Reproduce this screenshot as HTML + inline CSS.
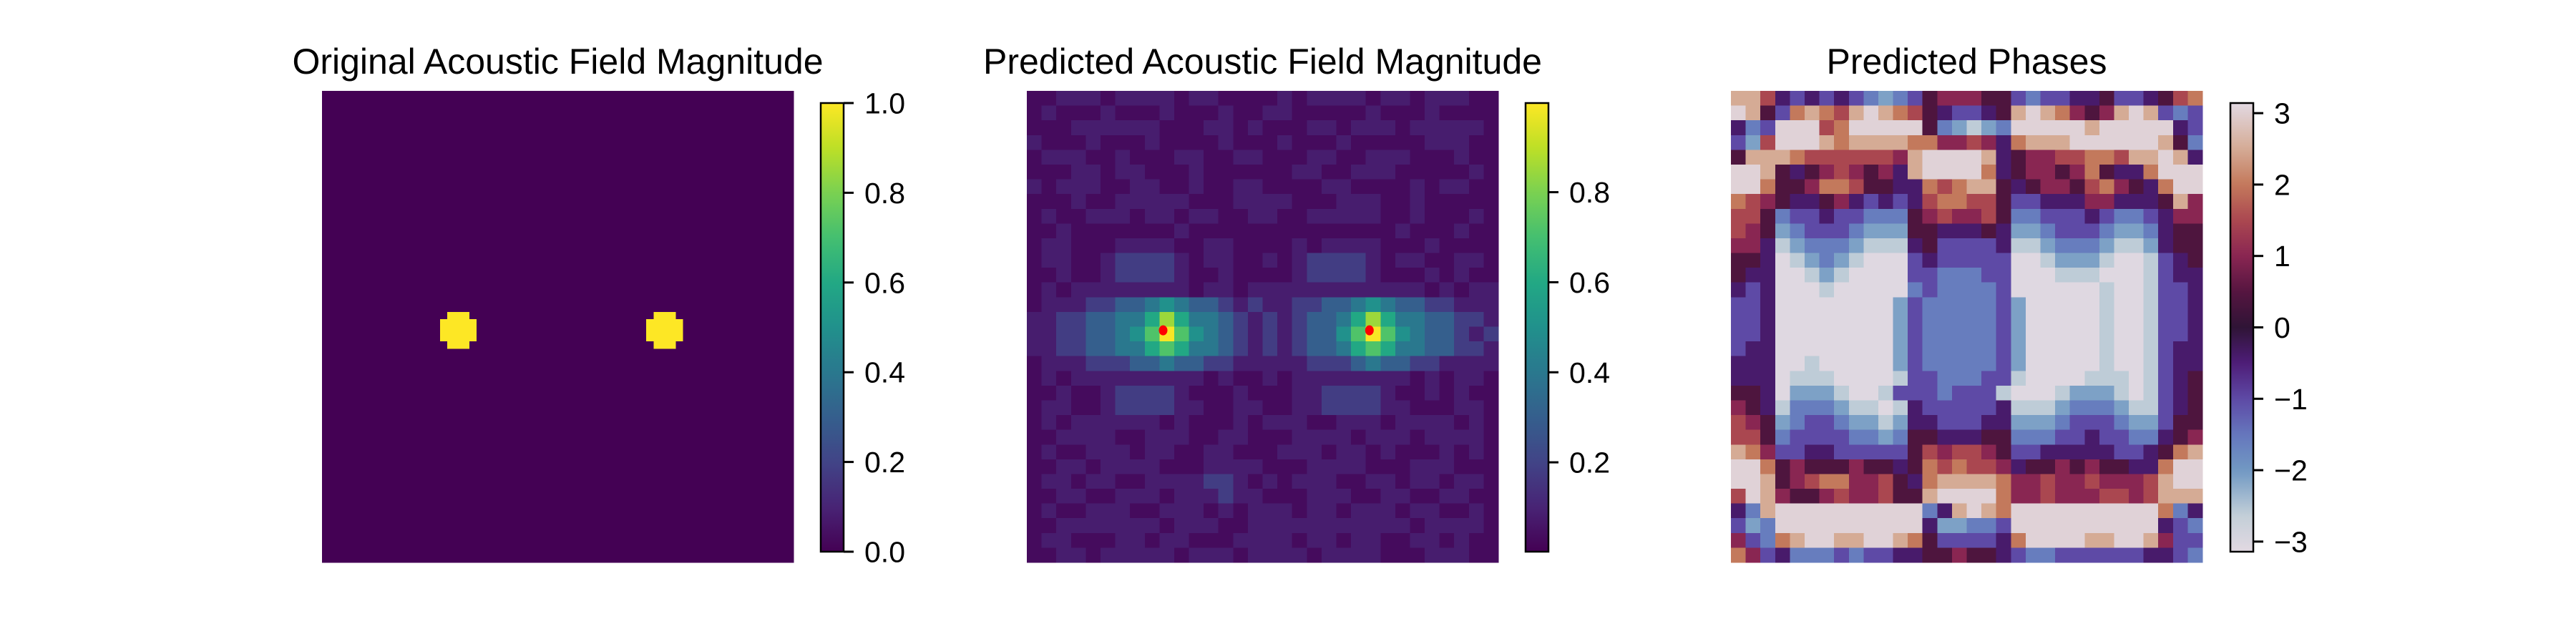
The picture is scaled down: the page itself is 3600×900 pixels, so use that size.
<!DOCTYPE html>
<html><head><meta charset="utf-8"><style>
html,body{margin:0;padding:0;background:#fff;}
svg{display:block;}
text{font-family:"Liberation Sans","DejaVu Sans",sans-serif;fill:#000;}
</style></head><body>
<svg id="fig" xmlns="http://www.w3.org/2000/svg" width="3600" height="900" viewBox="0 0 3600 900">
<rect x="0" y="0" width="3600" height="900" fill="#fff"/>
</svg>
<script>
// ---------- data ----------
const GRID_N = 64;
// Panel 1: target points (row, col) of the original magnitude
const TARGET_ROWS = [32, 32];
const TARGET_COLS = [18, 46];
const TARGET_VALUE = 1.0;
const BG_VALUE = 0.0;
// disk shape offsets
const DISK_ROWS = [-2, -1, 0, 1, 2];
const DISK_HALF = [1, 2, 2, 2, 1];
// Panel 2: predicted magnitude (32x32 blocks, level codes)
const MAG_LEVELS = {"0":0.03,"1":0.08,"2":0.18,"3":0.3,"4":0.4,"5":0.5,"6":0.6,"7":0.72,"8":0.85,"9":0.92,"a":0.99};
const MAG_GRID = [
"00111011110110000101111011011100",
"01000100010001001100000100010000",
"00011111100011010001101110111110",
"10001000100001000100010000011100",
"01110010001100110001100111000100",
"00011011000100000011001110000010",
"10111001100100110000110000101100",
"00010011111000111100011100100000",
"01001110110110011001111100100010",
"00100000001000000000000001000100",
"01100011110011000010111100010000",
"01100122221011001012222101100110",
"00100122221001000012222100010100",
"01011111111011011111111111101011",
"01112233454332121122334543322111",
"11223344686443212123346864433221",
"112233457a7543212123357a75433212",
"11223344676443212123346764433221",
"01112223343322111112223433221111",
"01011111111101001011111111010110",
"00100122221000100011222210010100",
"01100122221100110011222211000110",
"01011111101000101110011101111010",
"00111100111001100011110111011110",
"01001110110011000111011010001010",
"00110111100011110001111000111000",
"01101100111122101011100110110110",
"00110011101112110001110011001100",
"01001110011101011101101110110010",
"00111111101110011111111111011110",
"01100011011000111101101100110100",
"00110111110111011110111100011100"];
const MAG_MIN = 0.0015, MAG_MAX = 0.998;
const MAG_TICKS = [0.2, 0.4, 0.6, 0.8];
const MAG_TICK_LABELS = ["0.2", "0.4", "0.6", "0.8"];
// Panel 3: predicted phases (32x32 blocks, level codes)
const PH_LEVELS = {"W":3.05,"T":2.5,"O":2.0,"R":1.5,"M":1.0,"D":0.4,"K":-0.4,"P":-1.0,"B":-1.6,"L":-2.1,"S":-2.6,"w":-3.1};
const PH_GRID = [
"TTRKPKPKPBLBPDMMMDDPBPPKKDPPKDRO",
"WTDPOTORTWTORDKPPKDTWTOMDMTWTPBP",
"KBPWWWROWWWWWDBLSLBWWWWWTWWWWWKP",
"PLRWWWTOTTTTOOMMRMKOTTTWWWWWWTDB",
"DTTTORRRRRRMTWWWWTKDMMRROORTTWTK",
"WWTDKDMRMDMKTWWWWOKDMMDMODKKOWWW",
"WWODDMOORDDKKOROTTDKDMMDROMDKOWW",
"ORMDKKDMKPKPKROORRDPPKKKMMKKKDTM",
"RRDBPPKPPBBBDMRMMRDBBPPPKPBBPKMM",
"RMDLBPPPBLLLDDKKKDKLLBPPPBLLBKDD",
"MMKSLBBBLSSSKDPPPPKSSLBBBLSSLKDD",
"DDKwSLBLSwwwPKPPPPPwwSLLLSwwSPKD",
"DKKwwSLSwwwwPPBBBPPwwwSSSwwwSPKK",
"KPKwwwSwwwwwBPBBBBPwwwwwwSwwSPPK",
"PPKwwwwwwwwLPBBBBBPLwwwwwSwwSPPK",
"PPKwwwwwwwwLPBBBBBPLwwwwwSwwSPPK",
"PPKwwwwwwwwLPBBBBBPLwwwwwSwwSPPK",
"PKKwwwwwwwwLPBBBBBPLwwwwwSwwSPKK",
"KKKwwSwwwwwLPBBBBBPLwwwwwSwwSPKK",
"KKKwSSSwwwwSPPBBBPPSwwwwSSSwSPKD",
"DDKwLLLSwwSPPPBPPPSwwwSLLLSwSPKD",
"MDKSBBBLSSwSKPPPPPKSSSLBBBLSSPKD",
"RMDLBPPBLLSLKKPPPKKLLLBPPPBLLPDD",
"RRDBPPPPBBLBDDKKKDDBBBPPKPPBBKDM",
"TOMPPKKPPPPPDRMRRMDPPKKKKKPPKDOT",
"WWODMDDDMDDKDORORRMKDDMDMDDKKOWW",
"WWTDMROOMMRDKOTTTTOMMRMMRMMMRTWW",
"RWTMDDMRMMRDDTWWWWOMMRMMMRRMRTTT",
"KBTWWWWWWWWWWBKTWTOWWWWWWWWWWOBK",
"PLBWWWWWWWWWWKLLBBPWWWWWWWWWWKPB",
"MPBOTWWTTWWTODPPPPKOWWWWTTWWTMPP",
"OMPKBBBPBPPKKDDMDDKPBBPPPPPPKKPB"];
const PH_MIN = -Math.PI, PH_MAX = Math.PI;
const PH_TICKS = [-3, -2, -1, 0, 1, 2, 3];
const PH_TICK_LABELS = ["\u22123", "\u22122", "\u22121", "0", "1", "2", "3"];
const ORIG_TICKS = [0, 0.2, 0.4, 0.6, 0.8, 1.0];
const ORIG_TICK_LABELS = ["0.0", "0.2", "0.4", "0.6", "0.8", "1.0"];

// ---------- colormaps ----------
const VIRIDIS = [[0,"#440154"],[0.1,"#482475"],[0.2,"#414487"],[0.3,"#355f8d"],[0.4,"#2a788e"],[0.5,"#21918c"],[0.6,"#22a884"],[0.7,"#44bf70"],[0.8,"#7ad151"],[0.9,"#bddf26"],[1,"#fde725"]];
const TWILIGHT = [[0,"#e2d9e2"],[0.08,"#c3cfd8"],[0.18,"#7199c3"],[0.26,"#6577bd"],[0.34,"#5e4aa6"],[0.42,"#4e1d78"],[0.5,"#2f1436"],[0.58,"#561540"],[0.66,"#8a2652"],[0.74,"#ab4850"],[0.82,"#c47a5c"],[0.9,"#d5ac97"],[1,"#e2d9e2"]];
function hex2rgb(h){return [parseInt(h.substr(1,2),16),parseInt(h.substr(3,2),16),parseInt(h.substr(5,2),16)];}
function cmap(stops,t){
  t=Math.max(0,Math.min(1,t));
  for(let i=1;i<stops.length;i++){
    if(t<=stops[i][0]){
      const a=stops[i-1],b=stops[i];const f=(t-a[0])/(b[0]-a[0]);
      const ca=hex2rgb(a[1]),cb=hex2rgb(b[1]);
      return "rgb("+ca.map((v,k)=>Math.round(v+(cb[k]-v)*f)).join(",")+")";
    }
  }
  return stops[stops.length-1][1];
}

// ---------- layout ----------
const NS="http://www.w3.org/2000/svg";
const svg=document.getElementById("fig");
function mk(tag,attrs,parent){const e=document.createElementNS(NS,tag);for(const k in attrs)e.setAttribute(k,attrs[k]);(parent||svg).appendChild(e);return e;}
const IMG_Y=127, IMG_S=659, CB_Y=144, CB_H=627, CB_W=32;
const PANELS=[{x:450,cb:1147,title:"Original Acoustic Field Magnitude"},{x:1435,cb:2132,title:"Predicted Acoustic Field Magnitude"},{x:2419,cb:3117,title:"Predicted Phases"}];
const cell=IMG_S/GRID_N;
function cellX(p,c){return p.x+c*cell;}
function cellY(r){return IMG_Y+r*cell;}

function drawHeat(p,getVal,vmin,vmax,stops,name){
  const g=mk("g",{"shape-rendering":"crispEdges"});
  
  
  for(let r=0;r<GRID_N;r++){
    let c=0;
    while(c<GRID_N){
      const v=getVal(r,c);let c2=c+1;
      while(c2<GRID_N&&getVal(r,c2)===v)c2++;
      const rc=mk("rect",{x:cellX(p,c).toFixed(2),y:cellY(r).toFixed(2),width:((c2-c)*cell+0.6).toFixed(2),height:(cell+0.6).toFixed(2),fill:cmap(stops,(v-vmin)/(vmax-vmin))},g);
      
      
      c=c2;
    }
  }
}
function drawTitle(p,name){
  const t=mk("text",{x:p.x+IMG_S/2,y:103,"font-size":"50","text-anchor":"middle"});
  t.textContent=p.title;
  
  
}
function drawColorbar(p,stops,vmin,vmax,ticks,labels,name){
  const g=mk("g",{});
  
  
  const gid="grad-"+name;
  const defs=mk("defs",{},g);
  const lg=mk("linearGradient",{id:gid,x1:"0",y1:"1",x2:"0",y2:"0"},defs);
  for(let i=0;i<=64;i++){mk("stop",{offset:(i/64).toFixed(4),"stop-color":cmap(stops,i/64)},lg);}
  const bar=mk("rect",{x:p.cb,y:CB_Y,width:CB_W,height:CB_H,fill:"url(#"+gid+")",stroke:"#000","stroke-width":"2.5"},g);
  
  
  ticks.forEach((v,i)=>{
    const y=CB_Y+CB_H-(v-vmin)/(vmax-vmin)*CB_H;
    const tk=mk("line",{x1:p.cb+CB_W,x2:p.cb+CB_W+14,y1:y,y2:y,stroke:"#000","stroke-width":"3"},g);
    
    
    const tx=mk("text",{x:p.cb+CB_W+29,y:y+14.5,"font-size":"41"},g);
    tx.textContent=labels[i];
    
    
  });
}

// Panel 1
function origVal(r,c){
  for(let t=0;t<TARGET_ROWS.length;t++){
    for(let k=0;k<DISK_ROWS.length;k++){
      if(r===TARGET_ROWS[t]+DISK_ROWS[k] && Math.abs(c-TARGET_COLS[t])<=DISK_HALF[k]) return TARGET_VALUE;
    }
  }
  return BG_VALUE;
}
drawTitle(PANELS[0],"original-title");
drawHeat(PANELS[0],origVal,0,1,VIRIDIS,"original-magnitude-heatmap");
drawColorbar(PANELS[0],VIRIDIS,0,1,ORIG_TICKS,ORIG_TICK_LABELS,"original-colorbar");

// Panel 2
function magVal(r,c){const row=MAG_GRID[r>>1]||"";const ch=row.charAt(c>>1)||"0";return MAG_LEVELS[ch];}
drawTitle(PANELS[1],"predicted-magnitude-title");
drawHeat(PANELS[1],magVal,MAG_MIN,MAG_MAX,VIRIDIS,"predicted-magnitude-heatmap");
drawColorbar(PANELS[1],VIRIDIS,MAG_MIN,MAG_MAX,MAG_TICKS,MAG_TICK_LABELS,"predicted-magnitude-colorbar");
for(let t=0;t<TARGET_ROWS.length;t++){
  const dot=mk("ellipse",{cx:cellX(PANELS[1],TARGET_COLS[t]+0.5),cy:cellY(TARGET_ROWS[t]+0.5),rx:6,ry:7,fill:"#ff0000"});
  
  
}

// Panel 3
function phVal(r,c){const row=PH_GRID[r>>1]||"";const ch=row.charAt(c>>1)||"D";return PH_LEVELS[ch];}
drawTitle(PANELS[2],"predicted-phases-title");
drawHeat(PANELS[2],phVal,PH_MIN,PH_MAX,TWILIGHT,"predicted-phases-heatmap");
drawColorbar(PANELS[2],TWILIGHT,PH_MIN,PH_MAX,PH_TICKS,PH_TICK_LABELS,"phase-colorbar");
</script>
</body></html>
